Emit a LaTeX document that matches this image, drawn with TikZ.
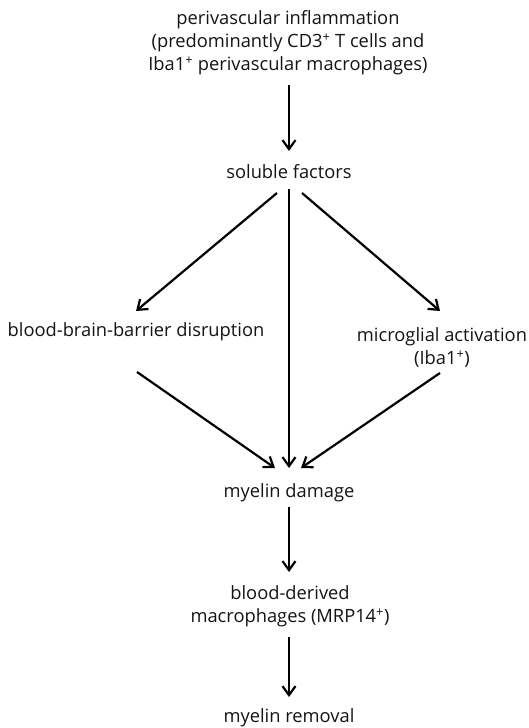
\documentclass[tikz,border=0pt]{standalone}
\usepackage{fontspec}
\setmainfont{Open Sans}
\usetikzlibrary{arrows.meta}
\begin{document}
\begin{tikzpicture}[x=1pt,y=1pt,
  lbl/.style={inner sep=0pt, align=center, font=\fontsize{18.3}{23}\selectfont, text=black!92},
  arr/.style={line width=2.2pt, -{Straight Barb[length=9pt,width=13pt,line width=2.2pt]}}]
\useasboundingbox[fill=white] (0,0) rectangle (529,728);
\node[lbl] (top) at (288,685.5) {perivascular inflammation\\(predominantly CD3\textsuperscript{+} T cells and\\Iba1\textsuperscript{+} perivascular macrophages)};
\node[lbl] (sf) at (289,556) {soluble factors};
\node[lbl] (bbb) at (136,396) {blood-brain-barrier disruption};
\node[lbl] (mic) at (442,380.5) {microglial activation\\(Iba1\textsuperscript{+})};
\node[lbl] (md) at (289,235) {myelin damage};
\node[lbl] (bdm) at (290,121.5) {blood-derived\\macrophages (MRP14\textsuperscript{+})};
\node[lbl] (mr) at (289,10) {myelin removal};
\draw[arr] ([shift={(1,-42.5)}]top.center) -- ([shift={(0,21)}]sf.center);
\draw[arr] ([shift={(-12,-21)}]sf.center) -- ([shift={(0,21)}]bbb.center);
\draw[arr] ([shift={(0,-17)}]sf.center) -- ([shift={(0,25)}]md.center);
\draw[arr] ([shift={(13,-21)}]sf.center) -- ([shift={(-2,36.5)}]mic.center);
\draw[arr] ([shift={(1,-40)}]bbb.center) -- ([shift={(-14,25)}]md.center);
\draw[arr] ([shift={(-2,-25.5)}]mic.center) -- ([shift={(12,25)}]md.center);
\draw[arr] ([shift={(0,-14)}]md.center) -- ([shift={(-1,34.5)}]bdm.center);
\draw[arr] ([shift={(-1,-30.5)}]bdm.center) -- ([shift={(0,21)}]mr.center);
\end{tikzpicture}
\end{document}
